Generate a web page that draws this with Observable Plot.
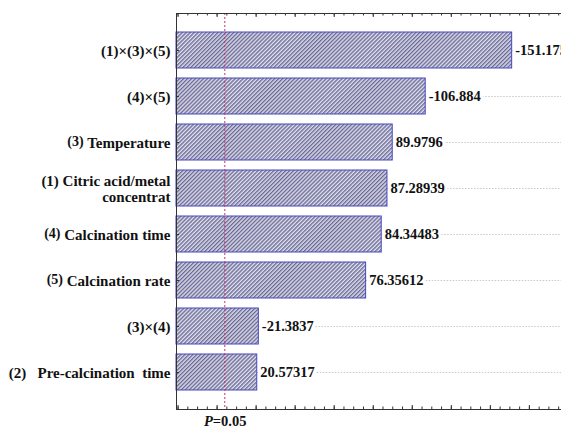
<!DOCTYPE html>
<html><head><meta charset="utf-8">
<script src="https://cdn.jsdelivr.net/npm/d3@7"></script>
<script src="https://cdn.jsdelivr.net/npm/@observablehq/plot@0.6"></script>
<style>
html,body{margin:0;padding:0;background:#fff;overflow:hidden;}
#chart svg{display:block;overflow:hidden;}
</style></head><body><div id="chart"></div>
<script>
// ---- data ----
const categories = [
  "(1)×(3)×(5)",
  "(4)×(5)",
  "(3) Temperature",
  "(1) Citric acid/metal\nconcentrat",
  "(4) Calcination time",
  "(5) Calcination rate",
  "(3)×(4)",
  "(2)   Pre-calcination  time"
];
const effects = [-151.175, -106.884, 89.9796, 87.28939, 84.34483, 76.35612, -21.3837, 20.57317];
const pValueLine = 3.94;
const pLabelParts = ["P", "=0.05"];
const raisedPrefix = ["(3) Temperature", "(4) Calcination time", "(5) Calcination rate"];
const xDomain = [-20.8, 186.7];
const minorTicks = d3.range(-20, 190, 5);
const majorTicks = d3.range(-20, 190, 20);

const data = categories.map((c, i) => ({cat: c, eff: effects[i], abs: Math.abs(effects[i]), label: String(effects[i])}));

const W = 561, H = 427;
const mL = 176, mR = -20, mT = 13, mB = 18;
const innerW = W - mL - mR, innerH = H - mT - mB;

const serif = "'Liberation Serif','Times New Roman',serif";

const svg = Plot.plot({
  width: W, height: H,
  marginLeft: mL, marginRight: mR, marginTop: mT, marginBottom: mB,
  style: {fontFamily: serif, fontSize: "14.5px", fontWeight: "bold", color: "#111", background: "#fff", overflow: "hidden"},
  x: {domain: xDomain, axis: null},
  y: {domain: categories, axis: null, paddingInner: 0.21, paddingOuter: 0.34},
  marks: [
    // dotted gridlines right of the bars
    Plot.ruleY(data, {y: "cat", x1: "abs", x2: xDomain[1], stroke: "#c8c8c8", strokeDasharray: "1.5,1.5", strokeWidth: 1}),
    // value labels
    Plot.text(data, {y: "cat", x: "abs", text: "label", textAnchor: "start", dx: 3, fill: "#111", stroke: "#fff", strokeWidth: 6, fontSize: 14.5}),
    // bars
    Plot.barX(data, {y: "cat", x1: xDomain[0], x2: "abs", fill: "url(#hatch)", stroke: "#4646c4", strokeWidth: 1}),
    // P=0.05 line
    Plot.ruleX([pValueLine], {stroke: "#c8336e", strokeDasharray: "2,2", strokeWidth: 1}),
    // frame (right side falls outside the picture)
    Plot.frame({stroke: "#333", strokeWidth: 1}),
    // inward ticks, top and bottom
    Plot.tickX(minorTicks, {x: d => d, insetBottom: innerH - 2.5, stroke: "#333"}),
    Plot.tickX(majorTicks, {x: d => d, insetBottom: innerH - 4, stroke: "#333"}),
    Plot.tickX(minorTicks, {x: d => d, insetTop: innerH - 2.5, stroke: "#333"}),
    Plot.tickX(majorTicks, {x: d => d, insetTop: innerH - 4, stroke: "#333"}),
    // inward ticks on the left axis
    Plot.tickY(categories, {y: d => d, insetRight: innerW - 3, stroke: "#333"}),
    // category labels
    Plot.axisY({anchor: "left", label: null, tickSize: 0, tickPadding: 6, fontSize: 15, lineHeight: 1.07, fill: "#111"}),
    // P=0.05 label
    Plot.text([pValueLine], {x: d => d, text: () => pLabelParts[0], frameAnchor: "bottom", lineAnchor: "top", dy: 6, dx: -12, textAnchor: "end", fontStyle: "italic", fontSize: 14.5, fill: "#111"}),
    Plot.text([pValueLine], {x: d => d, text: () => pLabelParts[1], frameAnchor: "bottom", lineAnchor: "top", dy: 6, dx: -12, textAnchor: "start", fontSize: 14.5, fill: "#111"})
  ]
});

// hatch pattern for bars
const defs = d3.select(svg).insert("defs", ":first-child");
const pat = defs.append("pattern")
  .attr("id", "hatch").attr("patternUnits", "userSpaceOnUse")
  .attr("width", 2.8).attr("height", 2.8)
  .attr("patternTransform", "rotate(45)");
pat.append("rect").attr("width", 2.8).attr("height", 2.8).attr("fill", "#e0e0ee");
pat.append("line").attr("x1", 0.7).attr("y1", 0).attr("x2", 0.7).attr("y2", 2.8)
  .attr("stroke", "#62628f").attr("stroke-width", 1.3);

// slightly smaller, raised numeric prefix for some labels
d3.select(svg).selectAll("text").each(function() {
  const t = d3.select(this);
  if (t.selectAll("tspan").size() > 0) return;
  const s = t.text();
  if (raisedPrefix.includes(s)) {
    const m = s.match(/^(\(\d\))(.*)$/);
    t.text(null);
    t.append("tspan").attr("font-size", 14).attr("dy", "-2").text(m[1]);
    t.append("tspan").attr("font-size", 15).attr("dy", "2").text(m[2]);
  }
});

document.getElementById("chart").appendChild(svg);
</script>
</body></html>
